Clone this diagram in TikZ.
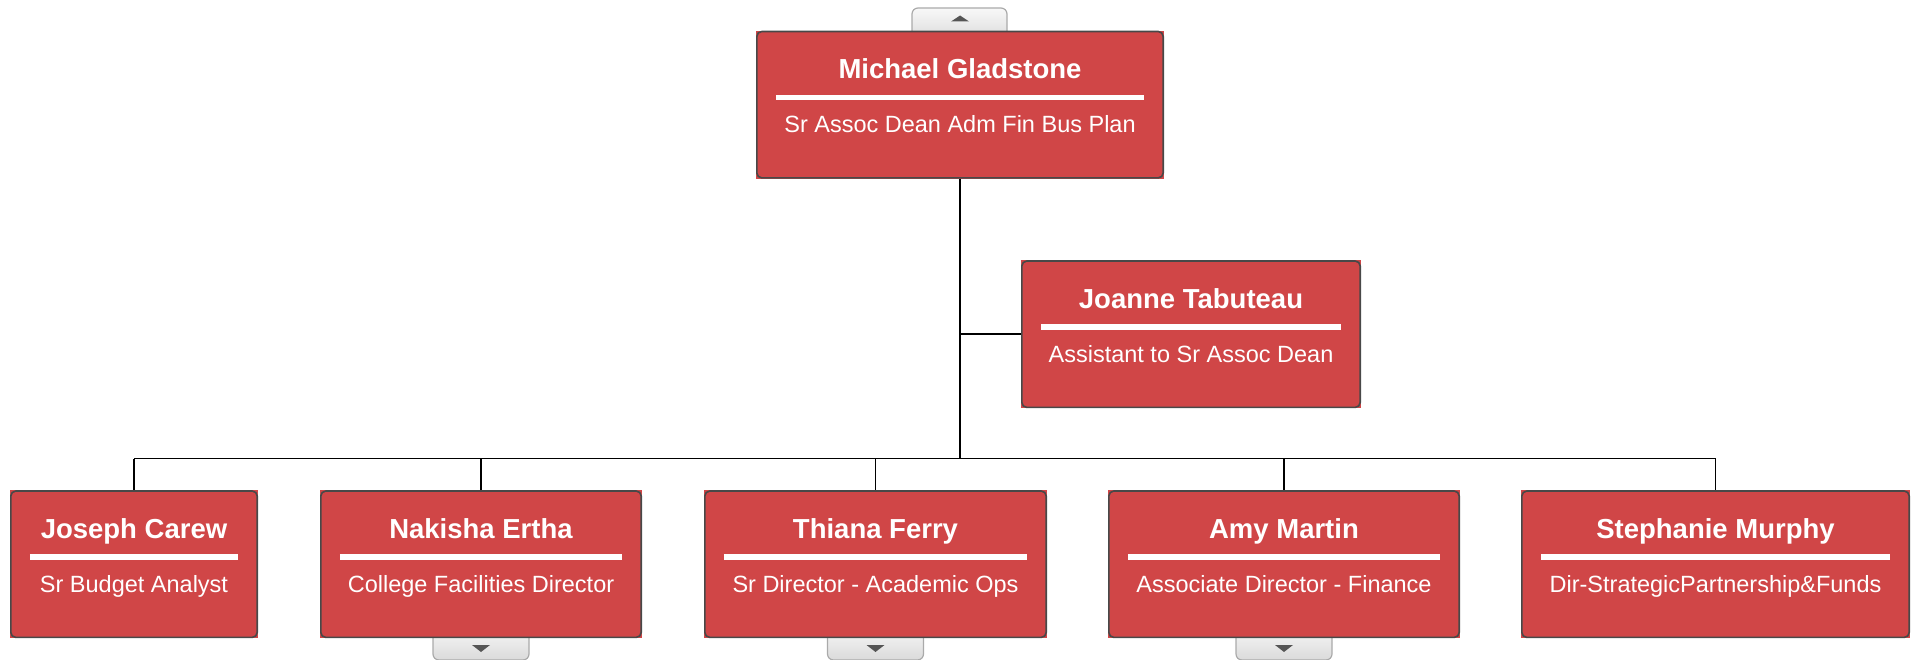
\documentclass[tikz,border=0pt]{standalone}
\usepackage{fontspec}
\setmainfont{Liberation Sans}
\definecolor{boxred}{RGB}{208,70,71}
\definecolor{boxedge}{RGB}{72,72,72}
\definecolor{tabtop}{RGB}{248,248,248}
\definecolor{tabbot}{RGB}{218,218,218}
\definecolor{tabedge}{RGB}{170,170,170}
\definecolor{tridark}{RGB}{85,85,85}
\tikzset{
  orgnode/.style={draw=none, fill=boxred, minimum height=148pt, inner sep=0pt, anchor=north},
  orgedge/.style={draw=boxedge, line width=1.6pt, rounded corners=5pt},
  nametext/.style={text=white, anchor=base, inner sep=0pt, font=\fontsize{27.5}{32}\selectfont\bfseries},
  titletext/.style={text=white, anchor=base, inner sep=0pt, font=\fontsize{23.5}{28}\selectfont},
  sepline/.style={draw=white, line width=5.5pt},
  conn/.style={draw=black, line width=1.9pt},
  tabbox/.style={draw=tabedge, line width=1.2pt, rounded corners=6pt, top color=tabtop, bottom color=tabbot},
  tri/.style={fill=tridark, draw=none}
}
\newcommand\orgbox[6]{%
  \node[orgnode, minimum width=#4pt] (#1) at (#2,#3) {};
  \draw[orgedge] ([xshift=1pt,yshift=-1pt]#1.north west) rectangle ([xshift=-1pt,yshift=1pt]#1.south east);
  \node[nametext] (#1-name) at ([yshift=-48.5pt]#1.north) {#5};
  \draw[sepline] ([xshift=20pt,yshift=-67pt]#1.north west) -- ([xshift=-20pt,yshift=-67pt]#1.north east);
  \node[titletext] (#1-title) at ([yshift=-102.5pt]#1.north) {#6};
}
\newcommand\downtab[1]{%
  \path[tabbox] (#1|-0,627) ++(-48,0) rectangle ++(96,33);
  \fill[tri] (#1|-0,645) ++(-9,0) -- ++(18,0) -- ++(-9,7) -- cycle;
}
\begin{document}
\begin{tikzpicture}[x=1pt,y=-1pt]
\useasboundingbox (0,0) rectangle (1917,660);
% tabs drawn first so boxes cover their inner part
\path[tabbox] (912,8) rectangle (1007,42);
\downtab{481,0}
\downtab{875.5,0}
\downtab{1284,0}
% boxes
\orgbox{top}{960}{30.5}{408}{Michael Gladstone}{Sr Assoc Dean Adm Fin Bus Plan}
\fill[tri] (951,21.5) -- (969,21.5) -- (960,15.5) -- cycle;
\orgbox{joanne}{1191}{260}{340}{Joanne Tabuteau}{Assistant to Sr Assoc Dean}
\orgbox{joseph}{134}{490}{248}{Joseph Carew}{Sr Budget Analyst}
\orgbox{nakisha}{481}{490}{322}{Nakisha Ertha}{College Facilities Director}
\orgbox{thiana}{875.5}{490}{343}{Thiana Ferry}{Sr Director - Academic Ops}
\orgbox{amy}{1284}{490}{352}{Amy Martin}{Associate Director - Finance}
\orgbox{stephanie}{1715.5}{490}{389}{Stephanie Murphy}{Dir-StrategicPartnership\&Funds}
% connectors
\coordinate (bus) at (960,458.5);
\draw[conn] (top.south) -- (bus);
\draw[conn] (top.south |- joanne.west) -- (joanne.west);
\draw[conn] (joseph.north |- bus) -- (stephanie.north |- bus);
\foreach \n in {joseph,nakisha,thiana,amy,stephanie}
  \draw[conn] (\n.north |- bus) -- (\n.north);
\end{tikzpicture}
\end{document}
